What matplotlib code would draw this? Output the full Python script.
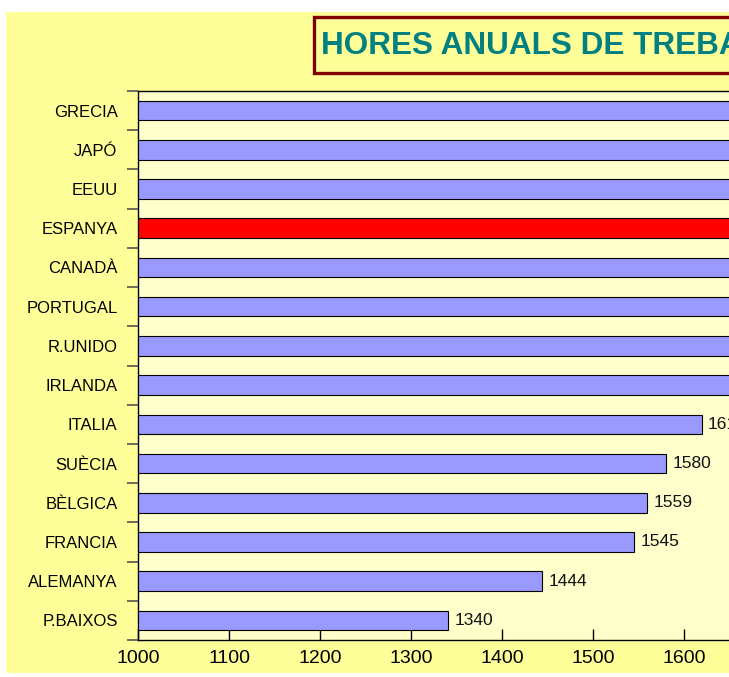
import matplotlib.pyplot as plt
from matplotlib.patches import Rectangle

plt.rcParams["font.family"] = ["Liberation Sans", "DejaVu Sans"]

# dades (de dalt a baix)
paisos = ["GRECIA", "JAPÓ", "EEUU", "ESPANYA", "CANADÀ", "PORTUGAL", "R.UNIDO",
          "IRLANDA", "ITALIA", "SUÈCIA", "BÈLGICA", "FRANCIA", "ALEMANYA", "P.BAIXOS"]
hores = [1938, 1842, 1815, 1800, 1778, 1719, 1707,
         1668, 1619, 1580, 1559, 1545, 1444, 1340]
destacat = "ESPANYA"
xticks = [1000, 1100, 1200, 1300, 1400, 1500, 1600, 1700, 1800, 1900, 2000, 2100]

W, H = 729, 677
fig = plt.figure(figsize=(W / 100, H / 100), dpi=100)
fig.patch.set_facecolor("white")

# fons groc de l'area del grafic
fig.patches.append(Rectangle((6 / W, 1 - 673 / H), 1, (673 - 12) / H,
                             transform=fig.transFigure, facecolor="#FFFF99",
                             edgecolor="none", zorder=-10))

# eix: x=1000 a 138 px, 91 px per 100 hores
x0, xmax = 1000, 2200
px_per_unit = 0.91
left = 138.4 / W
width = (xmax - x0) * px_per_unit / W
bottom = (H - 640) / H
height = (640 - 91) / H
ax = fig.add_axes([left, bottom, width, height])
ax.set_facecolor("#FFFFCC")

n = len(paisos)
ypos = list(range(n - 1, -1, -1))
colors = ["#FF0000" if p == destacat else "#9999FF" for p in paisos]
ax.barh(ypos, [h - x0 for h in hores], left=x0, height=0.5, color=colors,
        edgecolor="black", linewidth=0.8, zorder=3)

for y, h in zip(ypos, hores):
    ax.text(h + 7, y, str(h), va="center", ha="left", fontsize=12.5,
            color="#111111", zorder=4)

ax.set_xlim(x0, xmax)
ax.set_ylim(-0.5, n - 0.5)
ax.set_xticks(xticks)
ax.set_xticklabels([str(t) for t in xticks], fontsize=14)
ax.tick_params(axis="x", direction="in", length=8, width=1, pad=7)

ax.set_yticks(ypos)
ax.set_yticklabels(paisos, fontsize=12)
ax.tick_params(axis="y", which="major", length=0, pad=15)
ax.set_yticks([i - 0.5 for i in range(n + 1)], minor=True)
ax.tick_params(axis="y", which="minor", direction="out", length=8,
               width=1.2, color="#555555")

for s in ["left", "bottom", "top"]:
    ax.spines[s].set_color("black")
    ax.spines[s].set_linewidth(1)
ax.spines["right"].set_visible(False)

# caixa del titol
fig.patches.append(Rectangle((314 / W, 1 - 73 / H), 1, (73 - 17) / H,
                             transform=fig.transFigure, facecolor="#FFFF99",
                             edgecolor="#800000", linewidth=2.4, zorder=5))
fig.text(321 / W, 1 - 45.5 / H, "HORES ANUALS DE TREBALL", fontsize=22.7,
         fontweight="bold", color="#008080", ha="left", va="center", zorder=6)

fig.savefig("out.png", dpi=100)
